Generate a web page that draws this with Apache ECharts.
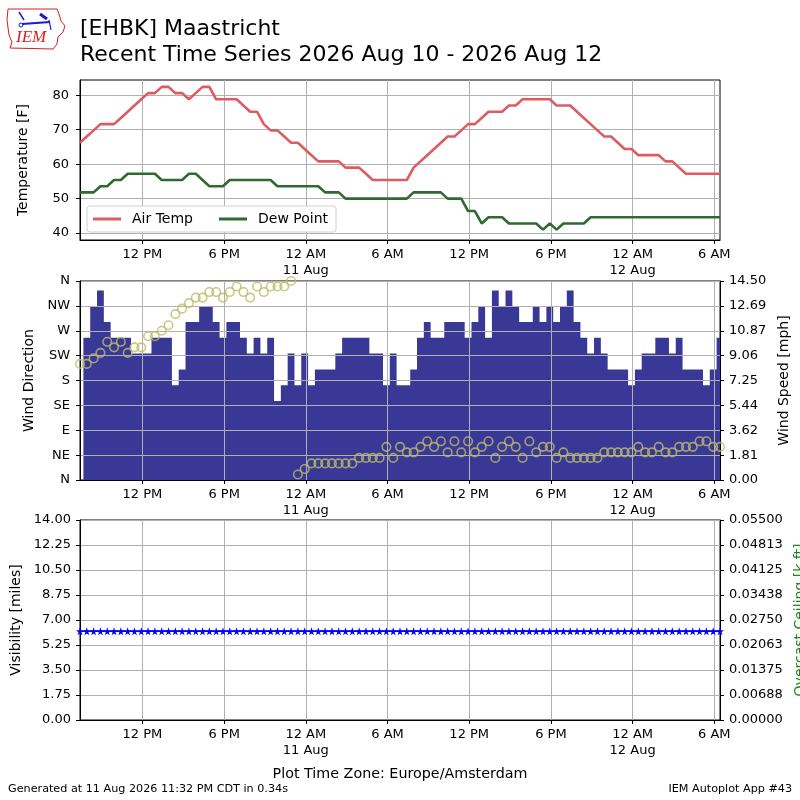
<!DOCTYPE html>
<html>
  <head>
    <meta charset="utf-8">
    <script src="https://cdn.jsdelivr.net/npm/echarts@6.0.0/dist/echarts.min.js"></script>
    <style>
      html, body { margin: 0; padding: 0; background: #fff; }
      #chart { width: 800px; height: 800px; }
    </style>
  </head>
  <body>
    <div id="chart"></div>
    <script>
      // observations every 30 minutes, first one at 07:25 on 10 Aug (Europe/Amsterdam)
      var firstObsHour = 7 + 25 / 60;
      var obsStepHours = 0.5;

      var tempF = [
        66.2, 68, 69.8, 71.6, 71.6, 71.6, 73.4, 75.2, 77, 78.8,
        80.6, 80.6, 82.4, 82.4, 80.6, 80.6, 78.8, 80.6, 82.4, 82.4,
        78.8, 78.8, 78.8, 78.8, 77, 75.2, 75.2, 71.6, 69.8, 69.8,
        68, 66.2, 66.2, 64.4, 62.6, 60.8, 60.8, 60.8, 60.8, 59,
        59, 59, 57.2, 55.4, 55.4, 55.4, 55.4, 55.4, 55.4, 59,
        60.8, 62.6, 64.4, 66.2, 68, 68, 69.8, 71.6, 71.6, 73.4,
        75.2, 75.2, 75.2, 77, 77, 78.8, 78.8, 78.8, 78.8, 78.8,
        77, 77, 77, 75.2, 73.4, 71.6, 69.8, 68, 68, 66.2,
        64.4, 64.4, 62.6, 62.6, 62.6, 62.6, 60.8, 60.8, 59, 57.2,
        57.2, 57.2, 57.2, 57.2, 57.2
      ];
      var dewF = [
        51.8, 51.8, 51.8, 53.6, 53.6, 55.4, 55.4, 57.2, 57.2, 57.2,
        57.2, 57.2, 55.4, 55.4, 55.4, 55.4, 57.2, 57.2, 55.4, 53.6,
        53.6, 53.6, 55.4, 55.4, 55.4, 55.4, 55.4, 55.4, 55.4, 53.6,
        53.6, 53.6, 53.6, 53.6, 53.6, 53.6, 51.8, 51.8, 51.8, 50,
        50, 50, 50, 50, 50, 50, 50, 50, 50, 51.8,
        51.8, 51.8, 51.8, 51.8, 50, 50, 50, 46.4, 46.4, 42.8,
        44.6, 44.6, 44.6, 42.8, 42.8, 42.8, 42.8, 42.8, 41, 42.8,
        41, 42.8, 42.8, 42.8, 42.8, 44.6, 44.6, 44.6, 44.6, 44.6,
        44.6, 44.6, 44.6, 44.6, 44.6, 44.6, 44.6, 44.6, 44.6, 44.6,
        44.6, 44.6, 44.6, 44.6, 44.6
      ];
      var windDir = [
        210, 210, 220, 230, 250, 240, 250, 230, 240, 240,
        260, 260, 270, 280, 300, 310, 320, 330, 330, 340,
        340, 330, 340, 350, 340, 330, 350, 340, 350, 350,
        350, 360, 10, 20, 30, 30, 30, 30, 30, 30,
        30, 40, 40, 40, 40, 60, 40, 60, 50, 50,
        60, 70, 60, 70, 50, 70, 50, 70, 50, 60,
        70, 40, 60, 70, 60, 40, 70, 50, 60, 60,
        40, 50, 40, 40, 40, 40, 40, 50, 50, 50,
        50, 50, 60, 50, 50, 60, 50, 50, 60, 60,
        60, 70, 70, 60, 60
      ];
      var windMph = [
        null, 10.36, 12.66, 13.81, 11.51, 10.36, 10.36, 10.36, 9.21, 9.21,
        9.21, 10.36, 10.36, 10.36, 6.9, 8.06, 11.51, 11.51, 12.66, 12.66,
        11.51, 10.36, 11.51, 11.51, 10.36, 9.21, 10.36, 9.21, 10.36, 5.75,
        6.9, 9.21, 6.9, 9.21, 6.9, 8.06, 8.06, 8.06, 9.21, 10.36,
        10.36, 10.36, 10.36, 9.21, 9.21, 6.9, 9.21, 6.9, 6.9, 8.06,
        10.36, 11.51, 10.36, 10.36, 11.51, 11.51, 11.51, 10.36, 11.51, 12.66,
        10.36, 13.81, 12.66, 13.81, 12.66, 11.51, 11.51, 12.66, 11.51, 12.66,
        11.51, 12.66, 13.81, 11.51, 10.36, 9.21, 10.36, 9.21, 8.06, 8.06,
        8.06, 6.9, 8.06, 9.21, 9.21, 10.36, 10.36, 9.21, 10.36, 8.06,
        8.06, 8.06, 6.9, 8.06, 10.36
      ];
      var visMiles = [
        6.21, 6.21, 6.21, 6.21, 6.21, 6.21, 6.21, 6.21, 6.21, 6.21,
        6.21, 6.21, 6.21, 6.21, 6.21, 6.21, 6.21, 6.21, 6.21, 6.21,
        6.21, 6.21, 6.21, 6.21, 6.21, 6.21, 6.21, 6.21, 6.21, 6.21,
        6.21, 6.21, 6.21, 6.21, 6.21, 6.21, 6.21, 6.21, 6.21, 6.21,
        6.21, 6.21, 6.21, 6.21, 6.21, 6.21, 6.21, 6.21, 6.21, 6.21,
        6.21, 6.21, 6.21, 6.21, 6.21, 6.21, 6.21, 6.21, 6.21, 6.21,
        6.21, 6.21, 6.21, 6.21, 6.21, 6.21, 6.21, 6.21, 6.21, 6.21,
        6.21, 6.21, 6.21, 6.21, 6.21, 6.21, 6.21, 6.21, 6.21, 6.21,
        6.21, 6.21, 6.21, 6.21, 6.21, 6.21, 6.21, 6.21, 6.21, 6.21,
        6.21, 6.21, 6.21, 6.21, 6.21
      ];

      // tick positions (hours since 10 Aug 00:00) and labels
      var tickHours = [12, 18, 24, 30, 36, 42, 48, 54];
      var tickLabels = ['12 PM', '6 PM', '12 AM\n11 Aug', '6 AM', '12 PM', '6 PM', '12 AM\n12 Aug', '6 AM'];
      var tempTicks = [40, 50, 60, 70, 80];
      var dirLabels = ['N', 'NE', 'E', 'SE', 'S', 'SW', 'W', 'NW', 'N'];
      var speedLabels = ['0.00', '1.81', '3.62', '5.44', '7.25', '9.06', '10.87', '12.69', '14.50'];
      var ceilLabels = ['0.00000', '0.00688', '0.01375', '0.02063', '0.02750', '0.03438', '0.04125', '0.04813', '0.05500'];

      var obsHours = tempF.map(function (_, i) { return firstObsHour + i * obsStepHours; });
      function pairs(vals) {
        return vals.map(function (v, i) { return [obsHours[i], v]; });
      }

      var FONT = 'DejaVu Sans';
      var GRID = '#b0b0b0';
      var NAVY = '#3a3896';
      var starPath = 'path://M50,0 L61,35 L98,35 L68,57 L79,91 L50,70 L21,91 L32,57 L2,35 L39,35 Z';

      function timeAxis(idx, extra) {
        var ax = {
          type: 'value',
          gridIndex: idx,
          min: obsHours[0],
          max: obsHours[obsHours.length - 1],
          axisLine: { onZero: false, lineStyle: { color: '#000', width: 1 } },
          axisTick: { customValues: tickHours, length: 4, lineStyle: { color: '#000' } },
          axisLabel: {
            customValues: tickHours,
            color: '#000', fontFamily: FONT, fontSize: 13, lineHeight: 16, margin: 7,
            formatter: function (v) {
              var k = tickHours.indexOf(Math.round(v));
              return k < 0 ? '' : tickLabels[k];
            }
          },
          splitLine: { show: true, lineStyle: { color: GRID, width: 1 } }
        };
        for (var key in extra) ax[key] = extra[key];
        return ax;
      }

      function sideAxis(idx, pos, extra) {
        var ax = {
          type: 'value',
          gridIndex: idx,
          position: pos,
          nameLocation: 'middle',
          nameTextStyle: { color: '#000', fontFamily: FONT, fontSize: 14 },
          axisLine: { show: true, onZero: false, lineStyle: { color: '#000', width: 1 } },
          axisTick: { show: true, length: 4, lineStyle: { color: '#000' } },
          axisLabel: { color: '#000', fontFamily: FONT, fontSize: 13, margin: 10 },
          splitLine: { show: false }
        };
        for (var key in extra) ax[key] = extra[key];
        return ax;
      }

      function panel(top, height) {
        return {
          left: 80, right: 80, top: top, height: height,
          outerBoundsMode: 'none', containLabel: false,
          show: true, borderColor: '#000', borderWidth: 1, backgroundColor: 'transparent'
        };
      }

      var chart = echarts.init(document.getElementById('chart'));

      chart.setOption({
        animation: false,
        backgroundColor: '#fff',
        title: {
          text: '[EHBK] Maastricht\nRecent Time Series 2026 Aug 10 - 2026 Aug 12',
          left: 80,
          top: 16,
          padding: 0,
          textStyle: { fontFamily: FONT, fontSize: 22, lineHeight: 26, fontWeight: 'normal', color: '#000' }
        },
        legend: {
          data: ['Air Temp', 'Dew Point'],
          left: 87,
          top: 206,
          icon: 'rect',
          itemWidth: 28,
          itemHeight: 3,
          itemGap: 26,
          selectedMode: false,
          padding: [6, 8, 6, 6],
          borderColor: '#d0d0d0',
          borderWidth: 1,
          borderRadius: 3,
          backgroundColor: '#fff',
          textStyle: { fontFamily: FONT, fontSize: 14, color: '#000', padding: [0, 0, 0, 6] }
        },
        grid: [panel(80, 160), panel(281, 199), panel(520, 200)],
        xAxis: [
          timeAxis(0, {}),
          timeAxis(1, { z: 3 }),
          timeAxis(2, {
            name: 'Plot Time Zone: Europe/Amsterdam',
            nameLocation: 'middle',
            nameGap: 47,
            nameTextStyle: { color: '#000', fontFamily: FONT, fontSize: 14.3 }
          })
        ],
        yAxis: [
          sideAxis(0, 'left', {
            min: 38, max: 84.4,
            name: 'Temperature [F]', nameGap: 50,
            axisTick: { show: true, customValues: tempTicks, length: 4, lineStyle: { color: '#000' } },
            axisLabel: { customValues: tempTicks, color: '#000', fontFamily: FONT, fontSize: 13, margin: 11 },
            splitLine: { show: true, lineStyle: { color: GRID, width: 1 } }
          }),
          sideAxis(1, 'left', {
            min: 0, max: 360, interval: 45, z: 3,
            name: 'Wind Direction', nameGap: 40,
            axisLabel: {
              color: '#000', fontFamily: FONT, fontSize: 13, margin: 10,
              formatter: function (v) { return dirLabels[Math.round(v / 45)]; }
            },
            splitLine: { show: true, lineStyle: { color: GRID, width: 1 } }
          }),
          sideAxis(1, 'right', {
            min: 0, max: 14.5, interval: 14.5 / 8, z: 3,
            name: 'Wind Speed [mph]', nameGap: 56,
            axisLabel: {
              color: '#000', fontFamily: FONT, fontSize: 13, margin: 9,
              formatter: function (v) { return speedLabels[Math.round(v / (14.5 / 8))]; }
            }
          }),
          sideAxis(2, 'left', {
            min: 0, max: 14, interval: 1.75,
            name: 'Visibility [miles]', nameGap: 56,
            axisLabel: {
              color: '#000', fontFamily: FONT, fontSize: 13, margin: 9,
              formatter: function (v) { return v.toFixed(2); }
            },
            splitLine: { show: true, lineStyle: { color: GRID, width: 1 } }
          }),
          sideAxis(2, 'right', {
            min: 0, max: 0.055, interval: 0.055 / 8,
            name: 'Overcast Ceiling [k ft]', nameGap: 70,
            nameTextStyle: { color: '#1a8a1a', fontFamily: FONT, fontSize: 14 },
            axisLabel: {
              color: '#000', fontFamily: FONT, fontSize: 13, margin: 9,
              formatter: function (v) { return ceilLabels[Math.round(v / (0.055 / 8))]; }
            }
          })
        ],
        series: [
          {
            name: 'Air Temp', type: 'line', xAxisIndex: 0, yAxisIndex: 0,
            data: pairs(tempF), symbol: 'none', color: '#dd5c62',
            lineStyle: { width: 2.6, color: '#dd5c62' }
          },
          {
            name: 'Dew Point', type: 'line', xAxisIndex: 0, yAxisIndex: 0,
            data: pairs(dewF), symbol: 'none', color: '#2f6a31',
            lineStyle: { width: 2.6, color: '#2f6a31' }
          },
          {
            // wind speed bars, one per observation, drawn as a centred step area
            name: 'Wind Speed', type: 'line', step: 'middle', xAxisIndex: 1, yAxisIndex: 2,
            data: pairs(windMph), symbol: 'none', z: 1,
            lineStyle: { width: 0, color: NAVY },
            areaStyle: { color: NAVY, opacity: 1 }
          },
          {
            name: 'Wind Direction', type: 'scatter', xAxisIndex: 1, yAxisIndex: 1,
            data: pairs(windDir), symbol: 'circle', symbolSize: 8.5, z: 5,
            itemStyle: { color: 'rgba(0,0,0,0)', borderColor: '#bcbc68', borderWidth: 1.6 }
          },
          {
            name: 'Visibility', type: 'line', xAxisIndex: 2, yAxisIndex: 3,
            data: pairs(visMiles), symbol: starPath, symbolSize: 8, showAllSymbol: true,
            color: '#0000ff', lineStyle: { width: 1.5, color: '#0000ff' },
            itemStyle: { color: '#0000ff' }
          }
        ],
        graphic: [
          // IEM logo, rough sketch
          {
            type: 'polygon', z: 10,
            shape: { points: [[8, 9], [57, 9], [59, 14], [61, 21], [65, 26], [63, 32], [58, 37], [57, 44], [53, 49], [10, 48], [12, 42], [9, 35], [7, 20]] },
            style: { fill: 'none', stroke: '#d42020', lineWidth: 1 }
          },
          { type: 'line', z: 10, shape: { x1: 22, y1: 24, x2: 50, y2: 22 }, style: { stroke: '#1a1ad0', lineWidth: 2 } },
          { type: 'line', z: 10, shape: { x1: 19, y1: 12, x2: 24, y2: 20 }, style: { stroke: '#1a1ad0', lineWidth: 1.5 } },
          { type: 'line', z: 10, shape: { x1: 40, y1: 14, x2: 47, y2: 19 }, style: { stroke: '#1a1ad0', lineWidth: 3 } },
          { type: 'line', z: 10, shape: { x1: 49, y1: 20, x2: 51, y2: 30 }, style: { stroke: '#1a1ad0', lineWidth: 1.2 } },
          { type: 'circle', z: 10, shape: { cx: 21, cy: 25, r: 2 }, style: { fill: 'none', stroke: '#1a1ad0', lineWidth: 1 } },
          {
            type: 'text', z: 10, left: 16, top: 29,
            style: { text: 'IEM', fill: '#d42020', font: 'italic 17px "Liberation Serif", "DejaVu Serif", serif' }
          },
          {
            type: 'text', left: 8, top: 784,
            style: { text: 'Generated at 11 Aug 2026 11:32 PM CDT in 0.34s', fill: '#000', font: '11.2px "DejaVu Sans"' }
          },
          {
            type: 'text', right: 8, top: 784,
            style: { text: 'IEM Autoplot App #43', fill: '#000', font: '11.2px "DejaVu Sans"' }
          }
        ]
      });
    </script>
  </body>
</html>
